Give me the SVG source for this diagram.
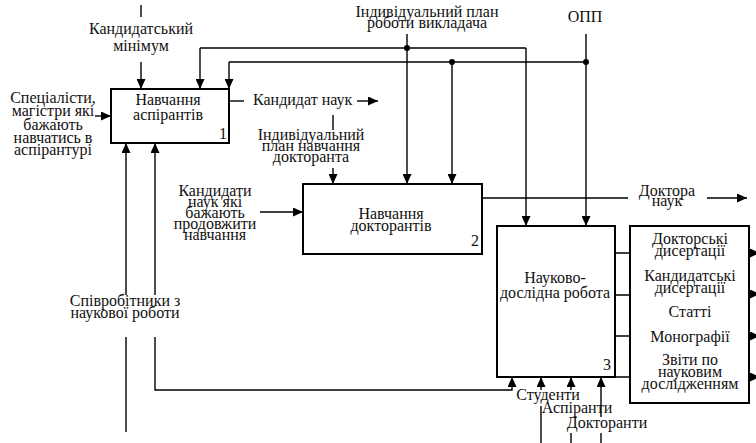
<svg xmlns="http://www.w3.org/2000/svg" width="756" height="443" viewBox="0 0 756 443">
<defs>
<marker id="ah" markerUnits="userSpaceOnUse" markerWidth="10" markerHeight="9" refX="10" refY="4.5" orient="auto">
<path d="M0,0 L10,4.5 L0,9 z" fill="#000"/>
</marker>
<style>
.box{fill:#fff;stroke:#000;stroke-width:2}
.ln{fill:none;stroke:#000;stroke-width:1.4}
.ar{fill:none;stroke:#000;stroke-width:1.4;marker-end:url(#ah)}
.t{font-family:"Liberation Serif","Times New Roman",serif;font-size:16px;fill:#111}
.s{font-size:15px}
.c{text-anchor:middle}
.dot{fill:#000}
</style>
</defs>
<rect width="756" height="443" fill="#fff"/>

<g id="connectors">
<path class="ln" d="M141,5 V17"/>
<path class="ar" d="M141,62 V89"/>
<path class="ln" d="M200,48 H526"/>
<path class="ar" d="M200,48 V89"/>
<path class="ar" d="M526,48 V226"/>
<path class="ar" d="M407,34 V184"/>
<path class="ar" d="M586,34 V226"/>
<path class="ln" d="M586,62 H229"/>
<path class="ar" d="M229,62 V89"/>
<path class="ar" d="M452,62 V184"/>
<circle class="dot" cx="407" cy="48" r="3"/>
<circle class="dot" cx="452" cy="62" r="3"/>
<circle class="dot" cx="586" cy="62" r="3"/>
<path class="ln" d="M229,101 H244"/>
<path class="ar" d="M357,101 H378"/>
<path class="ar" d="M95,116 H111"/>
<path class="ln" d="M126,432 V337"/>
<path class="ar" d="M126,295 V143"/>
<path class="ar" d="M155,295 V143"/>
<path class="ar" d="M155,337 V390 H512 V377"/>
<path class="ln" d="M333,115 V130"/>
<path class="ar" d="M333,168 V184"/>
<path class="ar" d="M260,212 H303"/>
<path class="ln" d="M482,198 H628"/>
<path class="ar" d="M707,198 H747"/>
<path class="ln" d="M615,253 H630 M615,295 H630 M615,336 H630 M615,377 H630"/>
<path class="ar" d="M749,253 H760"/>
<path class="ar" d="M749,294 H760"/>
<path class="ar" d="M749,336 H760"/>
<path class="ar" d="M749,377 H760"/>
<path class="ar" d="M541,390 V377"/>
<path class="ln" d="M541,406 V443"/>
<path class="ar" d="M571,390 V377"/>
<path class="ln" d="M571,433 V443"/>
<path class="ar" d="M601,417 V377"/>
<path class="ln" d="M601,433 V443"/>
</g>

<g id="node1">
<rect class="box" x="111" y="89" width="118" height="54"/>
<text class="t c" x="168" y="105">Навчання</text>
<text class="t c" x="168" y="120">аспірантів</text>
<text class="t" x="219" y="139">1</text>
</g>

<g id="node2">
<rect class="box" x="303" y="184" width="179" height="70"/>
<text class="t c" x="391" y="219">Навчання</text>
<text class="t c" x="391" y="231">докторантів</text>
<text class="t" x="471" y="246">2</text>
</g>

<g id="node3">
<rect class="box" x="497" y="226" width="118" height="151"/>
<text class="t c" x="555" y="283">Науково-</text>
<text class="t c" x="555" y="298">дослідна робота</text>
<text class="t" x="603" y="370">3</text>
</g>

<g id="node4">
<rect class="box" x="630" y="226" width="119" height="177"/>
<text class="t c" x="690" y="244">Докторські</text>
<text class="t c" x="690" y="256">дисертації</text>
<text class="t c" x="690" y="281">Кандидатські</text>
<text class="t c" x="690" y="293">дисертації</text>
<text class="t c" x="690" y="317">Статті</text>
<text class="t c" x="690" y="342">Монографії</text>
<text class="t c" x="690" y="365">Звіти по</text>
<text class="t c" x="690" y="377">науковим</text>
<text class="t c" x="690" y="389">дослідженням</text>
</g>

<g id="labels">
<text class="t c" x="141" y="34">Кандидатський</text>
<text class="t c" x="141" y="51">мінімум</text>
<text class="t c" x="53" y="103">Спеціалісти,</text>
<text class="t c" x="53" y="116">магістри які</text>
<text class="t c" x="53" y="130">бажають</text>
<text class="t c" x="53" y="143">навчатись в</text>
<text class="t c" x="53" y="155">аспірантурі</text>
<text class="t" x="253" y="105">Кандидат наук</text>
<text class="t c" x="427" y="17">Індивідуальний план</text>
<text class="t c" x="427" y="28">роботи викладача</text>
<text class="t c" x="585" y="22">ОПП</text>
<text class="t c" x="311" y="140">Індивідуальний</text>
<text class="t c" x="311" y="151">план навчання</text>
<text class="t c" x="311" y="162">докторанта</text>
<text class="t c" x="215" y="196">Кандидати</text>
<text class="t c" x="215" y="207">наук які</text>
<text class="t c" x="215" y="218">бажають</text>
<text class="t c" x="215" y="229">продовжити</text>
<text class="t c" x="215" y="240">навчання</text>
<text class="t c" x="667" y="196">Доктора</text>
<text class="t c" x="667" y="206">наук</text>
<text class="t c" x="125" y="306">Співробітники з</text>
<text class="t c" x="125" y="318">наукової роботи</text>
<text class="t c" x="548" y="400">Студенти</text>
<text class="t c" x="577" y="413">Аспіранти</text>
<text class="t c" x="607" y="428">Докторанти</text>
</g>
</svg>
